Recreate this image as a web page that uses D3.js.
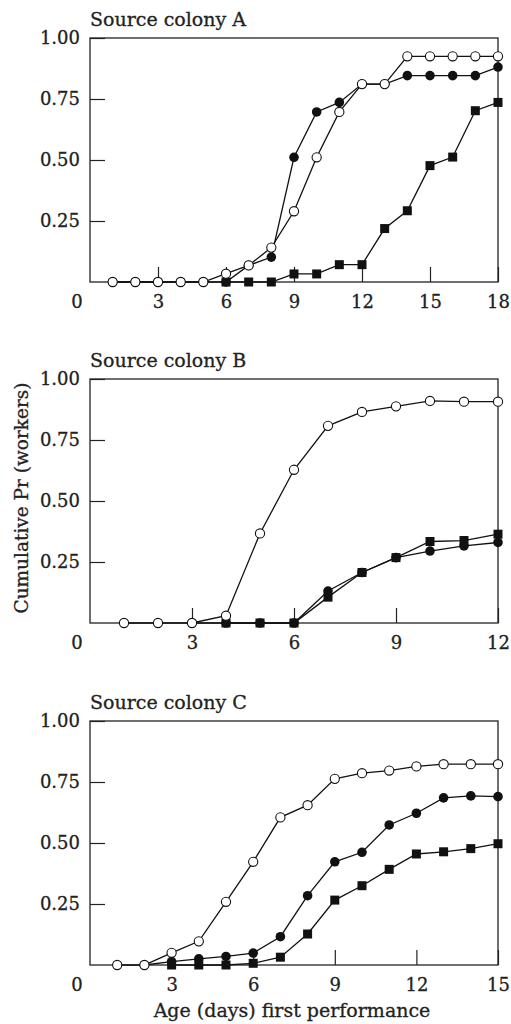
<!DOCTYPE html>
<html>
<head>
<meta charset="utf-8">
<script src="https://cdn.jsdelivr.net/npm/d3@7"></script>
<style>
  body { margin: 0; background: #fff; }
  svg text { font-family: "DejaVu Serif", "Liberation Serif", serif; fill: #222; stroke: #222; stroke-width: 0.3px; }
</style>
</head>
<body>
<div id="chart"></div>
<script>
// Data: cumulative proportion of workers by age of first performance

// Source colony A
var daysA = [1, 2, 3, 4, 5, 6, 7, 8, 9, 10, 11, 12, 13, 14, 15, 16, 17, 18];
var openA = [0, 0, 0, 0, 0, 0.034, 0.068, 0.141, 0.29, 0.511, 0.697, 0.811, 0.811, 0.925, 0.925, 0.925, 0.925, 0.925];
var filledA = [0, 0, 0, 0, 0, 0, 0.068, 0.102, 0.511, 0.697, 0.736, 0.811, 0.811, 0.846, 0.846, 0.846, 0.846, 0.881];
var squareDaysA = [6, 7, 8, 9, 10, 11, 12, 13, 14, 15, 16, 17, 18];
var squareA = [0, 0, 0, 0.033, 0.033, 0.071, 0.071, 0.219, 0.292, 0.477, 0.512, 0.702, 0.736];
var xTicksA = [3, 6, 9, 12, 15, 18];

// Source colony B
var daysB = [1, 2, 3, 4, 5, 6, 7, 8, 9, 10, 11, 12];
var openB = [0, 0, 0, 0.03, 0.367, 0.628, 0.808, 0.865, 0.888, 0.91, 0.907, 0.907];
var filledDaysB = [3, 4, 5, 6, 7, 8, 9, 10, 11, 12];
var filledB = [0, 0, 0, 0, 0.131, 0.207, 0.268, 0.295, 0.316, 0.33];
var squareDaysB = [4, 5, 6, 7, 8, 9, 10, 11, 12];
var squareB = [0, 0, 0, 0.106, 0.207, 0.268, 0.334, 0.338, 0.364];
var xTicksB = [3, 6, 9, 12];

// Source colony C
var daysC = [1, 2, 3, 4, 5, 6, 7, 8, 9, 10, 11, 12, 13, 14, 15];
var openC = [0, 0, 0.05, 0.097, 0.259, 0.423, 0.605, 0.655, 0.763, 0.786, 0.797, 0.814, 0.823, 0.823, 0.823];
var filledDaysC = [2, 3, 4, 5, 6, 7, 8, 9, 10, 11, 12, 13, 14, 15];
var filledC = [0, 0.014, 0.025, 0.035, 0.049, 0.116, 0.284, 0.423, 0.462, 0.574, 0.622, 0.685, 0.693, 0.69];
var squareDaysC = [3, 4, 5, 6, 7, 8, 9, 10, 11, 12, 13, 14, 15];
var squareC = [0, 0, 0, 0.007, 0.032, 0.127, 0.266, 0.325, 0.392, 0.455, 0.464, 0.477, 0.497];
var xTicksC = [3, 6, 9, 12, 15];

var yTicks = [0.25, 0.5, 0.75, 1.0];

var panels = [
  { title: "Source colony A", maxDay: 18, xTicks: xTicksA, top: 38,
    filled: { days: daysA, values: filledA },
    square: { days: squareDaysA, values: squareA },
    open: { days: daysA, values: openA } },
  { title: "Source colony B", maxDay: 12, xTicks: xTicksB, top: 379,
    filled: { days: filledDaysB, values: filledB },
    square: { days: squareDaysB, values: squareB },
    open: { days: daysB, values: openB } },
  { title: "Source colony C", maxDay: 15, xTicks: xTicksC, top: 721,
    filled: { days: filledDaysC, values: filledC },
    square: { days: squareDaysC, values: squareC },
    open: { days: daysC, values: openC } }
];

// Layout
var width = 511;
var height = 1024;
var left = 90;
var plotW = 408;
var plotH = 244;
var tickLen = 15;
var fontSize = 18;

var svg = d3.select("#chart").append("svg")
  .attr("width", width)
  .attr("height", height);

svg.append("rect").attr("width", width).attr("height", height).attr("fill", "#fff");

panels.forEach(function(p) {
  var g = svg.append("g").attr("transform", "translate(" + left + "," + p.top + ")");

  var xScale = d3.scaleLinear().domain([0, p.maxDay]).range([0, plotW]);
  var yScale = d3.scaleLinear().domain([0, 1]).range([plotH, 0]);

  // Title
  g.append("text")
    .attr("x", 0)
    .attr("y", -12)
    .style("font-size", "19px")
    .text(p.title);

  // Y axis (ticks pointing inward)
  var yAxis = d3.axisLeft(yScale)
    .tickValues(yTicks)
    .tickFormat(d3.format(".2f"))
    .tickSize(-tickLen)
    .tickPadding(10);
  var ya = g.append("g").call(yAxis);
  ya.select(".domain").remove();
  ya.selectAll("line").attr("stroke", "#222").attr("stroke-width", 1.2);
  ya.selectAll("text").style("font-size", fontSize + "px").attr("fill", "#222");

  // X axis (ticks pointing inward)
  var xAxis = d3.axisBottom(xScale)
    .tickValues(p.xTicks)
    .tickFormat(d3.format("d"))
    .tickSize(-tickLen)
    .tickPadding(13);
  var xa = g.append("g").attr("transform", "translate(0," + plotH + ")").call(xAxis);
  xa.select(".domain").remove();
  xa.selectAll("line").attr("stroke", "#222").attr("stroke-width", 1.2);
  xa.selectAll("text").style("font-size", fontSize + "px").attr("fill", "#222");

  // Shared origin label
  g.append("text")
    .attr("x", xScale(0) - 13)
    .attr("y", plotH + 26)
    .attr("text-anchor", "middle")
    .style("font-size", fontSize + "px")
    .text("0");

  // Frame
  g.append("rect")
    .attr("width", plotW)
    .attr("height", plotH)
    .attr("fill", "none")
    .attr("stroke", "#222")
    .attr("stroke-width", 1.3);

  var line = d3.line()
    .x(function(d) { return xScale(d[0]); })
    .y(function(d) { return yScale(d[1]); });

  function pairs(s) {
    return s.days.map(function(d, i) { return [d, s.values[i]]; });
  }

  // Filled circles (bottom), squares, then open circles (top)
  var fd = pairs(p.filled);
  g.append("path").datum(fd).attr("d", line)
    .attr("fill", "none").attr("stroke", "#111").attr("stroke-width", 1.3);
  g.selectAll(".filled").data(fd).enter().append("circle")
    .attr("class", "filled")
    .attr("cx", function(d) { return xScale(d[0]); })
    .attr("cy", function(d) { return yScale(d[1]); })
    .attr("r", 4.8)
    .attr("fill", "#111");

  var sd = pairs(p.square);
  var side = 9;
  g.append("path").datum(sd).attr("d", line)
    .attr("fill", "none").attr("stroke", "#111").attr("stroke-width", 1.3);
  g.selectAll(".square").data(sd).enter().append("rect")
    .attr("class", "square")
    .attr("x", function(d) { return xScale(d[0]) - side / 2; })
    .attr("y", function(d) { return yScale(d[1]) - side / 2; })
    .attr("width", side)
    .attr("height", side)
    .attr("fill", "#111");

  var od = pairs(p.open);
  g.append("path").datum(od).attr("d", line)
    .attr("fill", "none").attr("stroke", "#111").attr("stroke-width", 1.3);
  g.selectAll(".open").data(od).enter().append("circle")
    .attr("class", "open")
    .attr("cx", function(d) { return xScale(d[0]); })
    .attr("cy", function(d) { return yScale(d[1]); })
    .attr("r", 4.6)
    .attr("fill", "#fff")
    .attr("stroke", "#111")
    .attr("stroke-width", 1.1);
});

// Axis titles
svg.append("text")
  .attr("transform", "translate(28,498) rotate(-90)")
  .attr("text-anchor", "middle")
  .style("font-size", "18.5px")
  .text("Cumulative Pr (workers)");

svg.append("text")
  .attr("x", 292)
  .attr("y", 1017)
  .attr("text-anchor", "middle")
  .style("font-size", "19px")
  .text("Age (days) first performance");
</script>
</body>
</html>
